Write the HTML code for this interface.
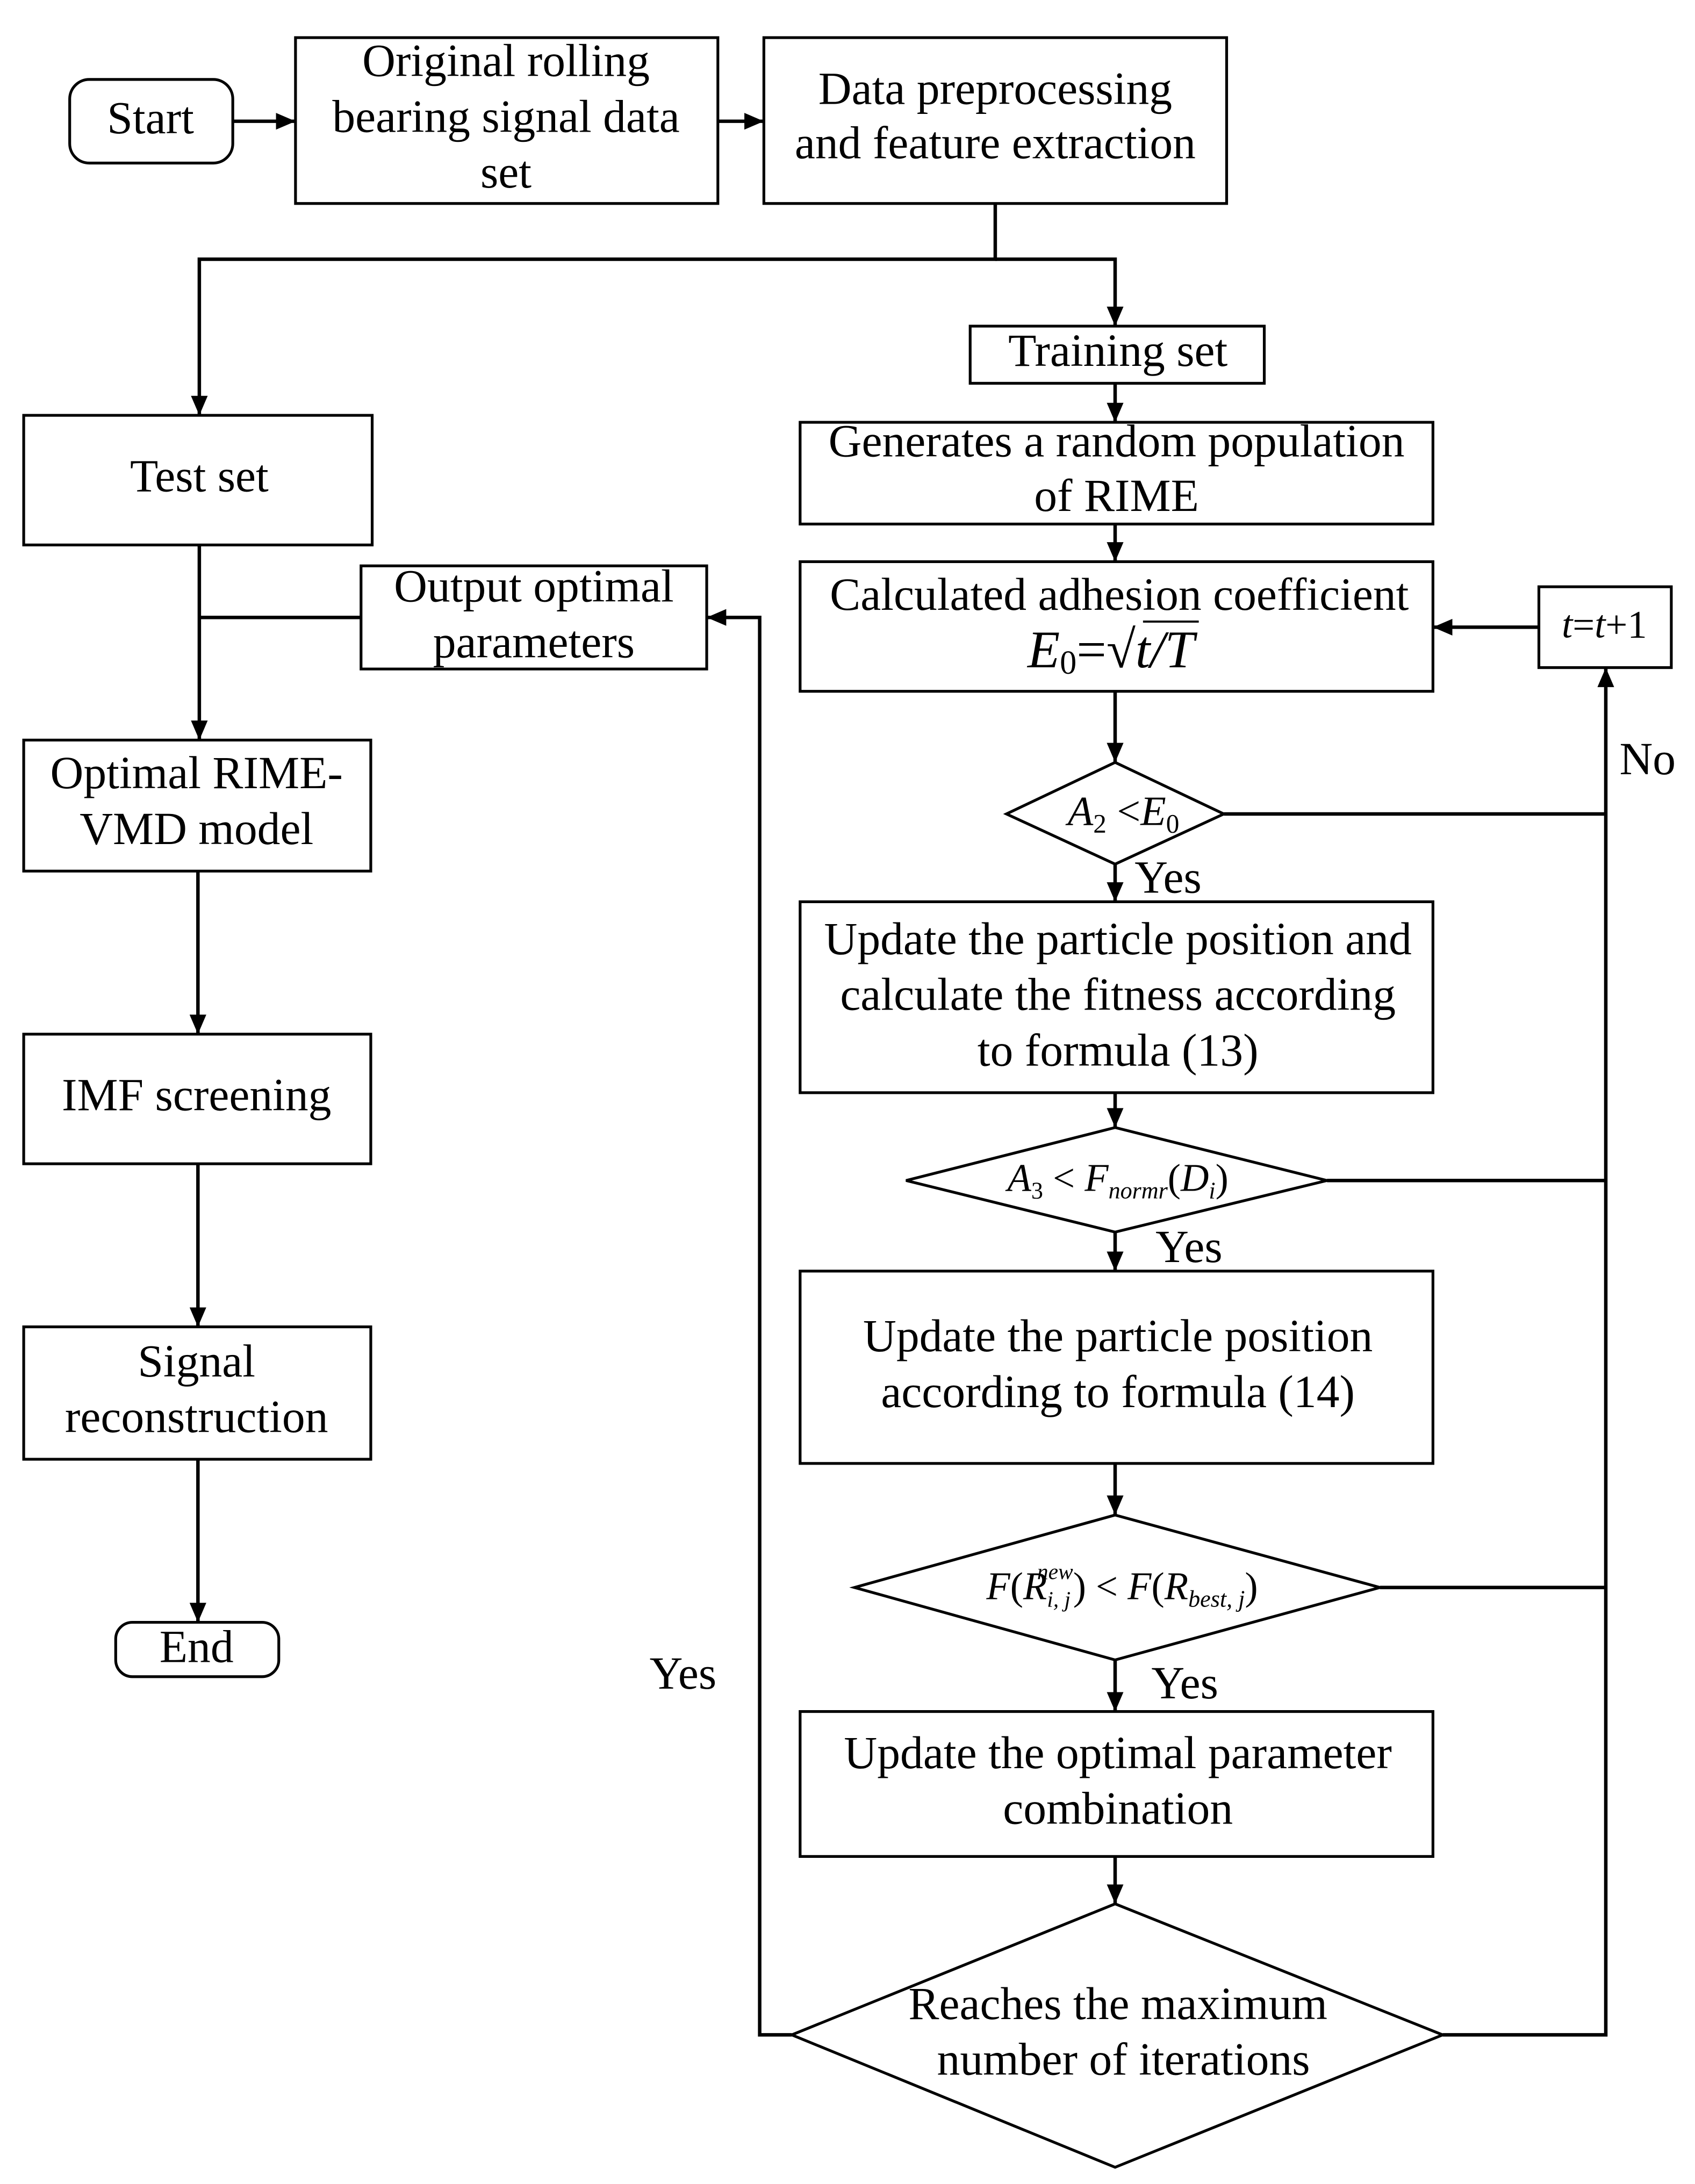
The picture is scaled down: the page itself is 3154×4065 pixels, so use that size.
<!DOCTYPE html>
<html><head><meta charset="utf-8"><style>
html,body{margin:0;padding:0;background:#fff;}
svg{display:block;}
text{font-family:"Liberation Serif",serif;font-size:33px;fill:#000;text-anchor:middle;dominant-baseline:middle;}
.i{font-style:italic;}
</style></head><body>
<svg width="3154" height="4065" viewBox="0 0 1216 1567" preserveAspectRatio="none" xmlns="http://www.w3.org/2000/svg">
<defs>
<marker id="b" viewBox="0 0 14 12" markerWidth="14" markerHeight="12" refX="14" refY="6" orient="auto" markerUnits="userSpaceOnUse"><path d="M0,0 L14,6 L0,12 z" fill="#000"/></marker></defs>
<g fill="none" stroke="#000" stroke-width="2">
<rect x="50" y="57" width="117" height="60" rx="14"/>
<rect x="212" y="27" width="303" height="119"/>
<rect x="548" y="27" width="332" height="119"/>
<rect x="696" y="234" width="211" height="41"/>
<rect x="574" y="303" width="454" height="73"/>
<rect x="574" y="403" width="454" height="93"/>
<rect x="1104" y="421" width="95" height="58"/>
<path d="M800,547 L878,584 L800,620 L722,584 Z"/>
<rect x="574" y="647" width="454" height="137"/>
<path d="M800,809 L952,847 L800,884 L650,847 Z"/>
<rect x="574" y="912" width="454" height="138"/>
<path d="M800,1087 L990,1139 L800,1191 L613,1139 Z"/>
<rect x="574" y="1228" width="454" height="104"/>
<path d="M800,1366 L1035,1460 L800,1555 L568,1460 Z"/>
<rect x="259" y="406" width="248" height="74"/>
<rect x="17" y="298" width="250" height="93"/>
<rect x="17" y="531" width="249" height="94"/>
<rect x="17" y="742" width="249" height="93"/>
<rect x="17" y="952" width="249" height="95"/>
<rect x="83" y="1164" width="117" height="39" rx="12"/>
</g>
<g fill="none" stroke="#000" stroke-width="2.5">
<line x1="167" y1="87" x2="212" y2="87" marker-end="url(#b)"/>
<line x1="515" y1="87" x2="548" y2="87" marker-end="url(#b)"/>
<polyline points="714,146 714,186 143,186 143,298" marker-end="url(#b)"/>
<polyline points="714,186 800,186 800,234" marker-end="url(#b)"/>
<line x1="800" y1="275" x2="800" y2="303" marker-end="url(#b)"/>
<line x1="800" y1="376" x2="800" y2="403" marker-end="url(#b)"/>
<line x1="1104" y1="450" x2="1028" y2="450" marker-end="url(#b)"/>
<line x1="800" y1="496" x2="800" y2="547" marker-end="url(#b)"/>
<line x1="800" y1="620" x2="800" y2="647" marker-end="url(#b)"/>
<line x1="800" y1="784" x2="800" y2="809" marker-end="url(#b)"/>
<line x1="800" y1="884" x2="800" y2="912" marker-end="url(#b)"/>
<line x1="800" y1="1050" x2="800" y2="1087" marker-end="url(#b)"/>
<line x1="800" y1="1191" x2="800" y2="1228" marker-end="url(#b)"/>
<line x1="800" y1="1332" x2="800" y2="1366" marker-end="url(#b)"/>
<line x1="878" y1="584" x2="1152" y2="584"/>
<line x1="952" y1="847" x2="1152" y2="847"/>
<line x1="990" y1="1139" x2="1152" y2="1139"/>
<polyline points="1035,1460 1152,1460 1152,479" marker-end="url(#b)"/>
<polyline points="568,1460 545,1460 545,443 507,443" marker-end="url(#b)"/>
<line x1="143" y1="443" x2="259" y2="443"/>
<line x1="143" y1="391" x2="143" y2="531" marker-end="url(#b)"/>
<line x1="142" y1="625" x2="142" y2="742" marker-end="url(#b)"/>
<line x1="142" y1="835" x2="142" y2="952" marker-end="url(#b)"/>
<line x1="142" y1="1047" x2="142" y2="1164" marker-end="url(#b)"/>
</g>
<text x="108" y="88">Start</text>
<text x="363" y="47">Original rolling</text>
<text x="363" y="87">bearing signal data</text>
<text x="363" y="127">set</text>
<text x="714" y="67">Data preprocessing</text>
<text x="714" y="106">and feature extraction</text>
<text x="802" y="255">Training set</text>
<text x="801" y="320">Generates a random population</text>
<text x="801" y="359">of RIME</text>
<text x="803" y="430">Calculated adhesion coefficient</text>
<text x="797" y="470" class="i" style="font-size:38px">E<tspan style="font-size:24px;font-style:normal" dy="8">0</tspan><tspan dy="-8" style="font-style:normal">=√</tspan>t/T</text>
<line x1="820" y1="446" x2="860" y2="446" stroke="#000" stroke-width="1.5"/>
<text x="1151" y="451" class="i" style="font-size:28px">t<tspan style="font-style:normal">=</tspan>t<tspan style="font-style:normal">+1</tspan></text>
<text x="806" y="585" class="i" style="font-size:30px">A<tspan dy="8" style="font-size:19px;font-style:normal">2</tspan><tspan dy="-8" style="font-style:normal"> &lt;</tspan>E<tspan dy="8" style="font-size:19px;font-style:normal">0</tspan></text>
<text x="1182" y="548">No</text>
<text x="838" y="633">Yes</text>
<text x="802" y="677">Update the particle position and</text>
<text x="802" y="717">calculate the fitness according</text>
<text x="802" y="757">to formula (13)</text>
<text x="802" y="848" class="i" style="font-size:28px">A<tspan dy="8" style="font-size:17px;font-style:normal">3</tspan><tspan dy="-8" style="font-style:normal"> &lt; </tspan>F<tspan dy="8" style="font-size:17px">normr</tspan><tspan dy="-8" style="font-style:normal">(</tspan>D<tspan dy="8" style="font-size:17px">i</tspan><tspan dy="-8" style="font-style:normal">)</tspan></text>
<text x="853" y="898">Yes</text>
<text x="802" y="962">Update the particle position</text>
<text x="802" y="1002">according to formula (14)</text>
<text x="805" y="1141" class="i" style="font-size:28px">F<tspan style="font-style:normal">(</tspan>R<tspan dy="8" style="font-size:16px">i, j</tspan><tspan dy="-20" dx="-24" style="font-size:16px">new</tspan><tspan dy="12" style="font-style:normal">) &lt; </tspan>F<tspan style="font-style:normal">(</tspan>R<tspan dy="8" style="font-size:17px">best, j</tspan><tspan dy="-8" style="font-style:normal">)</tspan></text>
<text x="850" y="1211">Yes</text>
<text x="802" y="1261">Update the optimal parameter</text>
<text x="802" y="1301">combination</text>
<text x="802" y="1441">Reaches the maximum</text>
<text x="806" y="1481">number of iterations</text>
<text x="490" y="1204">Yes</text>
<text x="383" y="424">Output optimal</text>
<text x="383" y="464">parameters</text>
<text x="143" y="345">Test set</text>
<text x="141" y="558">Optimal RIME-</text>
<text x="141" y="598">VMD model</text>
<text x="141" y="789">IMF screening</text>
<text x="141" y="980">Signal</text>
<text x="141" y="1020">reconstruction</text>
<text x="141" y="1185">End</text>
</svg>
</body></html>
